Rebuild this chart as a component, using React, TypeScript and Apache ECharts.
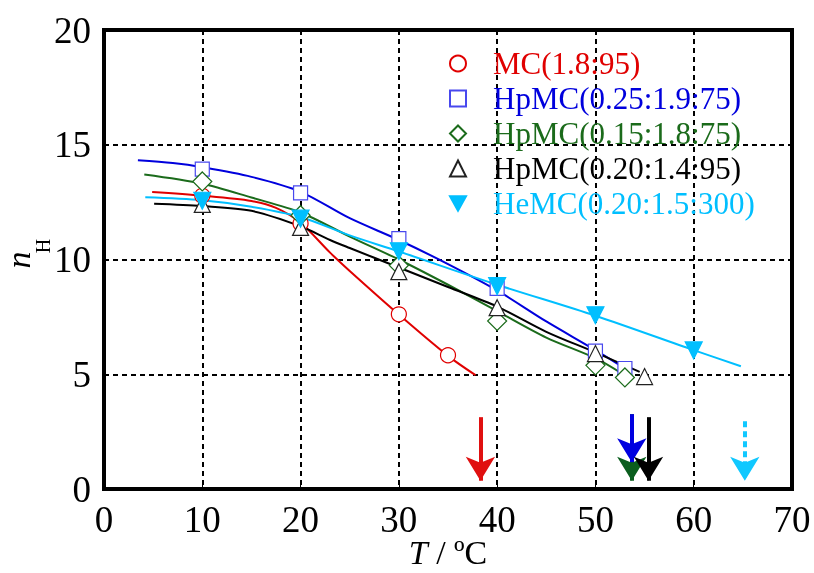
import React, { useEffect, useRef } from "react";
import * as echarts from "echarts";

// Measured points (T / °C, n_H)
const mcT = [10, 20, 30, 35];
const mcN = [12.78, 11.57, 7.61, 5.83];
const hp25T = [10, 20, 30, 40, 50, 53];
const hp25N = [13.94, 12.9, 10.91, 8.74, 6.01, 5.25];
const hp15T = [10, 20, 30, 40, 50, 53];
const hp15N = [13.4, 11.93, 9.74, 7.32, 5.39, 4.86];
const hp20T = [10, 20, 30, 40, 50, 55];
const hp20N = [12.4, 11.4, 9.47, 7.9, 5.9, 4.9];
const heT = [10, 20, 30, 40, 50, 60];
const heN = [12.56, 11.78, 10.36, 8.84, 7.57, 6.04];

// Fitted curves
const mcFitT = [4.9, 10, 15, 17.5, 20, 23, 25, 30, 35, 37.8];
const mcFitN = [12.94, 12.78, 12.55, 12.25, 11.6, 10.3, 9.5, 7.6, 5.8, 4.96];
const hp25FitT = [3.45, 7, 10, 15, 20, 25, 30, 35, 40, 45, 50, 53];
const hp25FitN = [14.32, 14.2, 14.02, 13.6, 12.95, 11.8, 10.85, 9.8, 8.65, 7.3, 6.05, 5.25];
const hp15FitT = [4.1, 10, 15, 20, 25, 30, 35, 40, 45, 50, 52.8];
const hp15FitN = [13.7, 13.3, 12.7, 12.05, 11.0, 10.0, 8.9, 7.75, 6.6, 5.7, 5.0];
const hp20FitT = [5.1, 10, 15, 20, 23, 25, 30, 35, 40, 45, 50, 54.5];
const hp20FitN = [12.43, 12.33, 12.12, 11.45, 10.85, 10.5, 9.65, 8.8, 7.95, 6.85, 5.95, 5.1];
const heFitT = [4.2, 10, 15, 20, 25, 30, 40, 50, 60, 64.8];
const heFitN = [12.71, 12.58, 12.3, 11.85, 11.05, 10.35, 8.9, 7.55, 6.05, 5.35];

// Arrows: x position, shaft start value, arrow tip value
const arrowNames = ["MC", "HpMC25", "HpMC15", "HpMC20", "HeMC"];
const arrowX = [38.3, 53.7, 53.7, 55.4, 65.2];
const arrowTop = [3.13, 3.26, 3.26, 3.13, 2.95];
const arrowTip = [0.36, 1.17, 0.36, 0.36, 0.36];
const arrowColors = ["#e01010", "#0000e0", "#0b5e1e", "#000000", "#10c8ff"];
const arrowDashed = [false, false, false, false, true];

const legendNames = [
  "MC(1.8:95)",
  "HpMC(0.25:1.9:75)",
  "HpMC(0.15:1.8:75)",
  "HpMC(0.20:1.4:95)",
  "HeMC(0.20:1.5:300)",
];
const lineColors = ["#e00000", "#0000dd", "#1b6b1b", "#000000", "#00bfff"];

const FONT = "Liberation Serif";

function zip(a: number[], b: number[]) {
  return a.map((v, i) => [v, b[i]]);
}

export default function App() {
  const ref = useRef<HTMLDivElement>(null);
  useEffect(() => {
    if (!ref.current) return;
    const chart = echarts.init(ref.current, undefined, { renderer: "svg" });

    const fits = [
      zip(mcFitT, mcFitN),
      zip(hp25FitT, hp25FitN),
      zip(hp15FitT, hp15FitN),
      zip(hp20FitT, hp20FitN),
      zip(heFitT, heFitN),
    ];
    const pts = [
      zip(mcT, mcN),
      zip(hp25T, hp25N),
      zip(hp15T, hp15N),
      zip(hp20T, hp20N),
      zip(heT, heN),
    ];
    const symbols = ["circle", "rect", "diamond", "triangle", "triangle"];
    const sizes = [15, 14, 19, 16, 17];
    const borderColors = ["#e00000", "#4848ee", "#1b6b1b", "#222222", "#00bfff"];
    const fills = ["#ffffff", "#ffffff", "#ffffff", "#ffffff", "#00bfff"];
    const rotates = [0, 0, 0, 0, 180];
    const legendIcons = [
      "circle",
      "rect",
      "diamond",
      "triangle",
      "path://M0,0 L10,0 L5,9 Z",
    ];

    const arrowSeries: any[] = arrowNames.map((n, i) => ({
      name: "arrow-" + n,
      type: "line",
      data: [],
      silent: true,
      markLine: {
        silent: true,
        symbol: ["none", "arrow"],
        symbolSize: [22, 24],
        label: { show: false },
        lineStyle: {
          color: arrowColors[i],
          width: 4,
          type: arrowDashed[i] ? [6, 4] : "solid",
        },
        emphasis: { disabled: true },
        data: [
          [
            { coord: [arrowX[i], arrowTop[i]] },
            { coord: [arrowX[i], arrowTip[i]] },
          ],
        ],
      },
    }));

    const series: any[] = [];
    fits.forEach((d, i) => {
      series.push({
        name: "fit-" + i,
        type: "line",
        data: d,
        smooth: 0.3,
        showSymbol: false,
        symbol: "none",
        lineStyle: { color: lineColors[i], width: 2 },
        z: 2,
        silent: true,
      });
    });
    // arrows order: green under blue
    series.push(arrowSeries[0], arrowSeries[2], arrowSeries[1], arrowSeries[3], arrowSeries[4]);
    pts.forEach((d, i) => {
      series.push({
        name: legendNames[i],
        type: "scatter",
        data: d,
        symbol: symbols[i],
        symbolSize: sizes[i],
        symbolRotate: rotates[i],
        itemStyle: {
          color: fills[i],
          borderColor: borderColors[i],
          borderWidth: 1.2,
          opacity: 1,
        },
        z: 4,
      });
    });

    chart.setOption({
      animation: false,
      textStyle: { fontFamily: FONT },
      grid: {
        left: 104,
        right: 22,
        top: 30,
        bottom: 84,
        show: true,
        borderColor: "#000",
        borderWidth: 4,
        backgroundColor: "transparent",
        outerBoundsMode: "none",
        containLabel: false,
      },
      legend: {
        orient: "vertical",
        left: 444,
        top: 41,
        itemWidth: 16,
        itemHeight: 16,
        itemGap: 0,
        selectedMode: false,
        textStyle: {
          fontFamily: FONT,
          fontSize: 31,
          lineHeight: 35,
          padding: [0, 0, 0, 22],
        },
        data: legendNames.map((n, i) => ({
          name: n,
          icon: legendIcons[i],
          textStyle: { color: lineColors[i] },
        })),
      },
      xAxis: {
        type: "value",
        min: 0,
        max: 70,
        interval: 10,
        name: "{i|T} / ºC",
        nameLocation: "middle",
        nameGap: 63,
        nameMoveOverlap: false,
        nameTextStyle: {
          fontFamily: FONT,
          fontSize: 34,
          color: "#000",
          verticalAlign: "middle",
          rich: {
            i: { fontFamily: FONT, fontSize: 34, fontStyle: "italic", color: "#000" },
          },
        },
        axisLine: { show: false },
        axisTick: { show: true, inside: true, length: 5, lineStyle: { color: "#000", width: 1 } },
        axisLabel: { fontFamily: FONT, fontSize: 37, color: "#000", margin: 12 },
        splitLine: { show: true, lineStyle: { color: "#000", width: 2, type: [5, 4] } },
      },
      yAxis: {
        type: "value",
        min: 0,
        max: 20,
        interval: 5,
        axisLine: { show: false },
        axisTick: { show: true, inside: true, length: 5, lineStyle: { color: "#000", width: 1 } },
        axisLabel: { fontFamily: FONT, fontSize: 37, color: "#000", margin: 13 },
        splitLine: { show: true, lineStyle: { color: "#000", width: 2, type: [5, 4] } },
      },
      graphic: [
        {
          type: "text",
          x: 18,
          y: 260,
          rotation: Math.PI / 2,
          style: {
            text: "n",
            font: "italic 34px 'Liberation Serif'",
            fill: "#000",
            align: "center",
            verticalAlign: "middle",
          },
        },
        {
          type: "text",
          x: 43,
          y: 246,
          rotation: Math.PI / 2,
          style: {
            text: "H",
            font: "20px 'Liberation Serif'",
            fill: "#000",
            align: "center",
            verticalAlign: "middle",
          },
        },
      ],
      series,
    });
    return () => chart.dispose();
  }, []);
  return (
    <div
      ref={ref}
      style={{ position: "fixed", left: 0, top: 0, width: 814, height: 573 }}
    />
  );
}
